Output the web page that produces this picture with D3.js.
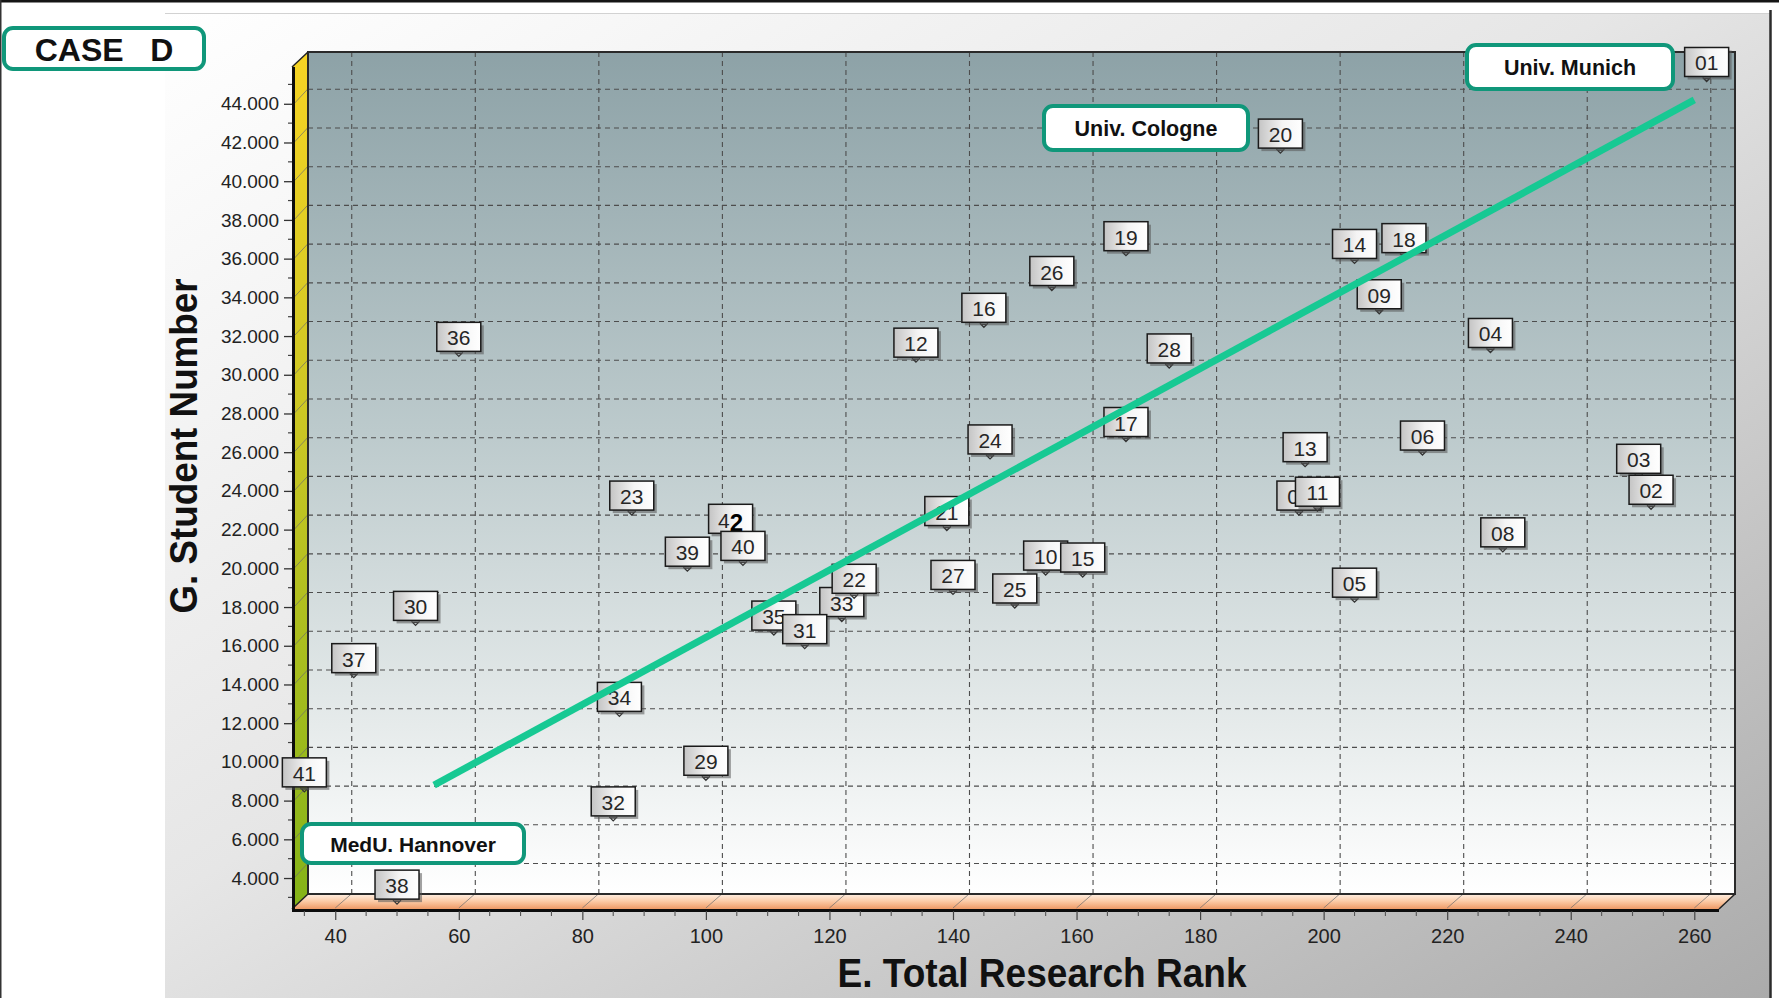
<!DOCTYPE html>
<html>
<head>
<meta charset="utf-8">
<script src="https://cdn.jsdelivr.net/npm/d3@7"></script>
<style>
  html, body { margin: 0; padding: 0; background: #fff; }
  svg { display: block; font-family: "Liberation Sans", Arial, sans-serif; }
</style>
</head>
<body>
<svg id="chart" width="1779" height="998"></svg>
<script>
// University marks: id, total research rank (x) and student number (y), in draw order
const ids = ["01","03","02","04","05","06","07","08","09","10","11","12","13","14","15","16","17","18","19","20",
             "21","23","24","25","26","27","28","29","30","32","33","34","35","31","22","36","37","38","39","42","40","41"];
const researchRank = [262,251,253,227,205,216,196,229,209,155,199,134,197,205,161,145,168,213,168,193,
                      139,88,146,150,156,140,175,100,53,85,122,86,111,116,124,60,43,50,97,104,106,35];
const studentNumber = [45100,24600,23000,31100,18200,25800,22700,20800,33100,19600,22900,30600,25200,35700,19500,32400,26500,36000,36100,41400,
                       21900,22700,25600,17900,34300,18600,30300,9000,17000,6900,17200,12300,16500,15800,18400,30900,14300,2600,19800,21500,20100,8400];

// Trend line end points
const trendRank = [56, 260];
const trendStudents = [8800, 44200];

// Axis ticks
const xTicks = [40, 60, 80, 100, 120, 140, 160, 180, 200, 220, 240, 260];
const yTicks = [4000, 6000, 8000, 10000, 12000, 14000, 16000, 18000, 20000, 22000, 24000, 26000,
                28000, 30000, 32000, 34000, 36000, 38000, 40000, 42000, 44000];

// Text
const caseTitle = "CASE   D";
const xTitle = "E. Total Research Rank";
const yTitle = "G. Student Number";
const calloutMunich = "Univ. Munich";
const calloutCologne = "Univ. Cologne";
const calloutHannover = "MedU. Hannover";

const W = 1779, H = 998;
const svg = d3.select("#chart");

const x = d3.scaleLinear().domain([33, 264]).range([292, 1719]);
const y = d3.scaleLinear().domain([2400, 45900]).range([909, 67]);
const DX = 16, DY = -15;               // 3D depth offset of the back wall
const X0 = x.range()[0], X1 = x.range()[1];
const Y0 = y.range()[0], Y1 = y.range()[1];

const deLocale = d3.formatLocale({ decimal: ",", thousands: ".", grouping: [3], currency: ["", " €"] });
const fmtY = deLocale.format(",d");

// ---------- gradients ----------
const defs = svg.append("defs");
function linGrad(id, x1, y1, x2, y2, stops) {
  const g = defs.append("linearGradient").attr("id", id)
    .attr("x1", x1).attr("y1", y1).attr("x2", x2).attr("y2", y2);
  stops.forEach(s => g.append("stop").attr("offset", s[0]).attr("stop-color", s[1]));
}
linGrad("panelGrad", "0", "0", "1", "1", [[0, "#ffffff"], [0.45, "#e6e6e6"], [1, "#ababab"]]);
linGrad("backGrad", "0", "0", "0", "1", [[0, "#8da2a7"], [0.45, "#bccacc"], [0.8, "#e6ebeb"], [1, "#ffffff"]]);
linGrad("leftGrad", "0", "0", "0", "1", [[0, "#f7d424"], [0.45, "#c9c624"], [1, "#84b318"]]);
linGrad("floorGrad", "0", "0", "0", "1", [[0, "#fff0e4"], [0.5, "#fbc9a4"], [1, "#ee9a66"]]);
linGrad("markGrad", "0", "0", "1", "0", [[0, "#c4c4c4"], [0.55, "#f4f4f4"], [1, "#ffffff"]]);

// ---------- page frame ----------
svg.append("rect").attr("width", W).attr("height", H).attr("fill", "#fff");
svg.append("rect").attr("x", 165).attr("y", 13).attr("width", 1605).attr("height", H - 13)
  .attr("fill", "url(#panelGrad)");
svg.append("line").attr("x1", 165).attr("x2", 1770).attr("y1", 13.5).attr("y2", 13.5)
  .attr("stroke", "#d2d2d2").attr("stroke-width", 1);
svg.append("line").attr("x1", 1770.5).attr("x2", 1770.5).attr("y1", 10).attr("y2", H)
  .attr("stroke", "#2b2b2b").attr("stroke-width", 2.5);
svg.append("rect").attr("x", 0).attr("y", 0).attr("width", W).attr("height", 2.5).attr("fill", "#151515");
svg.append("rect").attr("x", 0).attr("y", 0).attr("width", 1.5).attr("height", H).attr("fill", "#333");

// ---------- 3D walls ----------
const walls = svg.append("g");
walls.append("rect").attr("x", X0 + DX).attr("y", Y1 + DY)
  .attr("width", X1 - X0).attr("height", Y0 - Y1).attr("fill", "url(#backGrad)");
walls.append("polygon")
  .attr("points", [[X0, Y1], [X0 + DX, Y1 + DY], [X0 + DX, Y0 + DY], [X0, Y0]].map(p => p.join(",")).join(" "))
  .attr("fill", "url(#leftGrad)");
walls.append("polygon")
  .attr("points", [[X0, Y0], [X0 + DX, Y0 + DY], [X1 + DX, Y0 + DY], [X1, Y0]].map(p => p.join(",")).join(" "))
  .attr("fill", "url(#floorGrad)");

// grid on the back wall
const grid = svg.append("g").attr("stroke", "#4d4d4d").attr("stroke-width", 1.1)
  .attr("stroke-dasharray", "5,4").attr("fill", "none");
grid.selectAll(".hg").data(yTicks).join("line")
  .attr("x1", X0 + DX).attr("x2", X1 + DX)
  .attr("y1", d => y(d) + DY + 0.5).attr("y2", d => y(d) + DY + 0.5);
grid.selectAll(".vg").data(xTicks).join("line")
  .attr("x1", d => x(d) + DX + 0.5).attr("x2", d => x(d) + DX + 0.5)
  .attr("y1", Y1 + DY).attr("y2", Y0 + DY);
// grid continuation across the left wall and floor
const slant = svg.append("g").attr("stroke", "#6d6d6d").attr("stroke-width", 1).attr("opacity", 0.7);
slant.selectAll(".ls").data(yTicks).join("line")
  .attr("x1", X0 + 2).attr("y1", d => y(d)).attr("x2", X0 + DX).attr("y2", d => y(d) + DY);
slant.selectAll(".fs").data(xTicks).join("line")
  .attr("x1", d => x(d)).attr("y1", Y0 - 1).attr("x2", d => x(d) + DX).attr("y2", Y0 + DY);

// wall edges
const edges = svg.append("g").attr("fill", "none").attr("stroke-linejoin", "miter");
edges.append("path")
  .attr("d", `M${X0 + DX},${Y0 + DY} V${Y1 + DY} H${X1 + DX} V${Y0 + DY} H${X0 + DX}`)
  .attr("stroke", "#2a2a2a").attr("stroke-width", 2);
edges.append("path")
  .attr("d", `M${X0},${Y0} L${X0 + DX},${Y0 + DY} M${X1},${Y0} L${X1 + DX},${Y0 + DY} M${X0},${Y1} L${X0 + DX},${Y1 + DY}`)
  .attr("stroke", "#222").attr("stroke-width", 1.5);
edges.append("path")
  .attr("d", `M${X0 + 1.5},${Y1} V${Y0 + 1.5} H${X1}`)
  .attr("stroke", "#0d0d0d").attr("stroke-width", 3);

// ---------- axes ----------
const yAxis = svg.append("g").attr("transform", `translate(${X0},0)`)
  .call(d3.axisLeft(y).tickValues(yTicks).tickFormat(fmtY).tickSize(8).tickPadding(5));
yAxis.select(".domain").remove();
yAxis.selectAll(".tick line").attr("stroke", "#333").attr("stroke-width", 1.3);
yAxis.selectAll(".tick text").attr("font-size", 19).attr("fill", "#222")
  .attr("font-family", "'Liberation Sans', Arial, sans-serif");
const yMinor = d3.range(3000, 45001, 2000);
svg.append("g").selectAll("line").data(yMinor).join("line")
  .attr("x1", X0 - 4).attr("x2", X0).attr("y1", d => y(d)).attr("y2", d => y(d))
  .attr("stroke", "#444").attr("stroke-width", 1.2);

const xAxis = svg.append("g").attr("transform", `translate(0,${Y0 + 2})`)
  .call(d3.axisBottom(x).tickValues(xTicks).tickSize(9).tickPadding(9));
xAxis.select(".domain").remove();
xAxis.selectAll(".tick line").attr("stroke", "#444").attr("stroke-width", 1.2);
xAxis.selectAll(".tick text").attr("font-size", 20).attr("fill", "#222")
  .attr("font-family", "'Liberation Sans', Arial, sans-serif");
const xMinor = d3.range(35, 261, 5).filter(v => v % 20 !== 0);
svg.append("g").selectAll("line").data(xMinor).join("line")
  .attr("x1", d => x(d)).attr("x2", d => x(d)).attr("y1", Y0 + 2).attr("y2", Y0 + 7)
  .attr("stroke", "#555").attr("stroke-width", 1.1);

// axis titles
svg.append("text").attr("x", 1042).attr("y", 987).attr("text-anchor", "middle")
  .attr("font-size", 40).attr("font-weight", "bold").attr("fill", "#111")
  .attr("textLength", 409).attr("lengthAdjust", "spacingAndGlyphs").text(xTitle);
svg.append("text").attr("transform", "translate(197,446) rotate(-90)").attr("text-anchor", "middle")
  .attr("font-size", 38).attr("font-weight", "bold").attr("fill", "#111")
  .attr("textLength", 335).attr("lengthAdjust", "spacingAndGlyphs").text(yTitle);

// ---------- point marks ----------
const BW = 44, BH = 29, GAP = 6;
const marks = svg.append("g").selectAll("g").data(d3.range(ids.length)).join("g")
  .attr("transform", i => `translate(${x(researchRank[i])},${y(studentNumber[i])})`);
marks.append("path")
  .attr("d", "M-4,-5 L0,-1 L4,-5 M-3,-4 H3")
  .attr("fill", "none").attr("stroke", "#333").attr("stroke-width", 1.3);
marks.append("rect")
  .attr("x", -BW / 2 + 3).attr("y", -GAP - BH + 3).attr("width", BW).attr("height", BH)
  .attr("fill", "#555").attr("opacity", 0.55);
marks.append("rect")
  .attr("x", -BW / 2).attr("y", -GAP - BH).attr("width", BW).attr("height", BH)
  .attr("fill", "url(#markGrad)").attr("stroke", "#1a1a1a").attr("stroke-width", 1.5);
const labels = marks.append("text")
  .attr("x", 0).attr("y", -GAP - BH / 2 + 1).attr("text-anchor", "middle")
  .attr("dominant-baseline", "central").attr("font-size", 21).attr("fill", "#262626");
labels.each(function (i) {
  const t = d3.select(this);
  if (ids[i] === "42") {
    // overlapping mark: last digit printed heavier
    t.append("tspan").text(ids[i][0]);
    t.append("tspan").attr("font-weight", "bold").attr("font-size", 24).attr("fill", "#000")
      .attr("dy", 2).text(ids[i][1]);
  } else {
    t.text(ids[i]);
  }
});

// ---------- trend line ----------
svg.append("path")
  .datum(d3.range(trendRank.length))
  .attr("d", d3.line().x(i => x(trendRank[i])).y(i => y(trendStudents[i])))
  .attr("fill", "none").attr("stroke", "#17c993").attr("stroke-width", 7);

// ---------- callouts ----------
function callout(bx, by, bw, bh, text, size) {
  const g = svg.append("g");
  g.append("rect").attr("x", bx).attr("y", by).attr("width", bw).attr("height", bh)
    .attr("rx", 9).attr("ry", 9).attr("fill", "#fff")
    .attr("stroke", "#10977a").attr("stroke-width", 4);
  g.append("text").attr("x", bx + bw / 2).attr("y", by + bh / 2 + 1)
    .attr("text-anchor", "middle").attr("dominant-baseline", "central")
    .attr("font-size", size).attr("font-weight", "bold").attr("fill", "#111")
    .style("white-space", "pre").text(text);
}
callout(4, 28, 200, 41, caseTitle, 32);
callout(1467, 45, 206, 44, calloutMunich, 21.5);
callout(1044, 106, 204, 44, calloutCologne, 21.5);
callout(302, 824, 222, 39, calloutHannover, 21);
</script>
</body>
</html>
